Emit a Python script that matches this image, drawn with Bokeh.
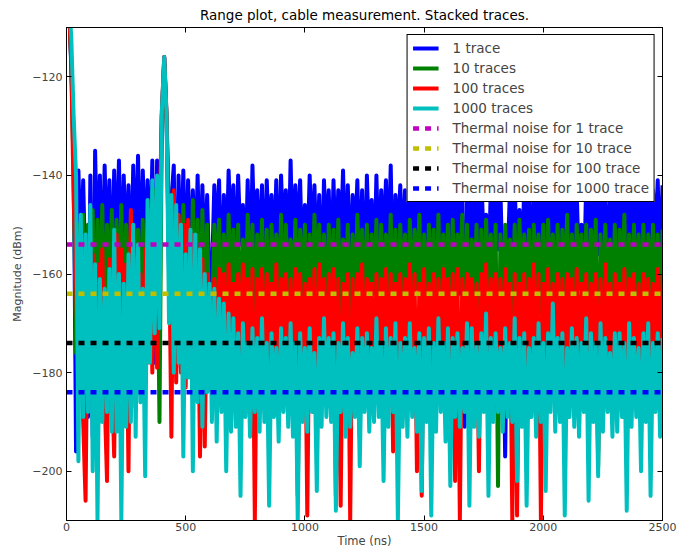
from bokeh.plotting import figure
from bokeh.models import Range1d, FixedTicker, LinearAxis
from bokeh.embed import file_html
from bokeh.resources import INLINE

# ---------------- data ----------------
time_ns = list(range(0, 2501, 10))

trace_1 = [
    -108, -104, -118, -132, -196, -139, -158, -141, -162, -189,
    -140, -193, -135, -160, -140, -165, -138, -158, -141, -166,
    -139, -160, -137, -163, -140, -158, -142, -164, -138, -160,
    -136, -162, -139, -158, -141, -160, -137, -178, -137, -160,
    -128, -116, -129, -160, -145, -138, -179, -140, -160, -139,
    -163, -141, -159, -143, -161, -140, -162, -142, -160, -144,
    -163,
    -161, -142, -155, -141, -166, -144, -160, -139, -154, -142,
    -163, -140, -154, -146, -162, -141, -165, -138, -156, -143,
    -159, -142, -163, -141, -155, -144, -158, -141, -164, -140,
    -154, -143, -162, -137, -159, -142, -155, -141, -161, -146,
    -158, -140, -156, -142, -160, -144, -166, -141, -154, -143,
    -162, -141, -158, -143, -155, -139, -160, -142, -163, -144,
    -154, -141, -161, -143, -165, -140, -156, -145, -162, -140,
    -160, -143, -155, -141, -159, -138, -166, -144, -154, -142,
    -158, -143, -164, -140, -156, -143, -162, -141, -159, -142,
    -155, -141, -161, -144, -158, -139, -154, -143, -160, -141,
    -162, -143, -156, -142, -164, -141, -191, -143, -155, -144,
    -158, -141, -163, -140, -154, -148, -162, -142, -165, -141,
    -155, -143, -161, -197, -158, -143, -156, -141, -160, -147,
    -164, -141, -154, -142, -162, -144, -158, -141, -155, -143,
    -160, -140, -161, -143, -156, -142, -159, -141, -162, -144,
    -154, -141, -163, -143, -160, -150, -164, -141, -155, -142,
    -161, -143, -156, -140, -163, -142, -160, -145, -154, -141,
    -159, -143, -164, -141, -155, -144, -158, -142, -163, -140,
    -156, -143, -162, -141, -159, -143, -154, -141, -161, -142,
]

trace_10 = [
    -108, -105, -117, -140, -176, -150, -170, -148, -172, -150,
    -168, -147, -175, -149, -170, -146, -173, -150, -168, -147,
    -171, -149, -169, -146, -174, -150, -170, -148, -172, -187,
    -151, -170, -149, -173, -150, -147, -175, -143, -145, -190,
    -128, -117, -129, -150, -147, -145, -170, -148, -172, -146,
    -169, -151, -168, -145, -171, -149, -174, -147, -170, -150,
    -173,
    -172, -150, -164, -149, -175, -152, -169, -148, -165, -151,
    -170, -150, -176, -153, -171, -148, -164, -150, -174, -152,
    -165, -149, -172, -151, -177, -150, -163, -152, -168, -148,
    -173, -150, -164, -153, -169, -149, -175, -151, -165, -150,
    -176, -152, -168, -148, -163, -150, -170, -152, -174, -150,
    -164, -151, -173, -149, -171, -153, -165, -150, -175, -152,
    -170, -148, -163, -151, -169, -150, -176, -152, -164, -149,
    -174, -150, -168, -152, -165, -148, -170, -151, -169, -150,
    -164, -152, -175, -149, -170, -151, -163, -148, -174, -152,
    -169, -150, -165, -151, -176, -148, -170, -152, -164, -150,
    -173, -149, -169, -152, -163, -148, -175, -150, -170, -153,
    -165, -150, -174, -151, -170, -149, -164, -152, -169, -150,
    -203, -152, -171, -150, -164, -153, -168, -150, -172, -149,
    -165, -152, -169, -151, -174, -150, -163, -152, -168, -150,
    -175, -149, -164, -152, -172, -150, -169, -151, -165, -148,
    -171, -152, -168, -150, -163, -152, -170, -150, -172, -151,
    -164, -149, -199, -152, -171, -150, -165, -153, -170, -150,
    -173, -151, -163, -148, -172, -152, -170, -150, -164, -152,
    -169, -150, -171, -152, -165, -150, -168, -152, -172, -151,
]

trace_100 = [
    -108, -105, -117, -145, -160, -185, -162, -190, -206, -157,
    -180, -156, -188, -158, -178, -155, -185, -202, -157, -180,
    -197, -152, -182, -155, -179, -158, -200, -147, -183, -157,
    -180, -160, -185, -155, -178, -150, -180, -145, -179, -150,
    -127, -116, -128, -152, -193, -143, -182, -148, -180, -150,
    -183, -149, -181, -152, -179, -155, -197, -157, -195, -160,
    -183,
    -184, -161, -181, -159, -186, -160, -180, -158, -185, -162,
    -182, -160, -179, -158, -184, -161, -187, -159, -210, -161,
    -181, -159, -186, -160, -183, -162, -180, -158, -185, -161,
    -182, -160, -187, -161, -180, -159, -205, -160, -184, -162,
    -209, -161, -183, -159, -192, -158, -181, -161, -186, -160,
    -180, -159, -205, -161, -207, -162, -184, -160, -210, -161,
    -182, -160, -193, -158, -185, -161, -180, -162, -186, -160,
    -183, -161, -181, -159, -187, -160, -196, -162, -180, -160,
    -185, -161, -182, -158, -184, -160, -200, -162, -205, -159,
    -181, -162, -186, -160, -180, -161, -184, -159, -187, -161,
    -182, -160, -202, -159, -210, -161, -183, -160, -186, -161,
    -180, -162, -200, -160, -184, -158, -182, -161, -187, -160,
    -181, -161, -185, -159, -183, -162, -210, -160, -209, -162,
    -180, -160, -186, -161, -182, -158, -184, -160, -210, -162,
    -183, -159, -181, -162, -185, -160, -180, -161, -187, -160,
    -182, -161, -184, -159, -186, -162, -181, -160, -183, -162,
    -185, -160, -196, -161, -187, -158, -182, -162, -184, -160,
    -181, -162, -186, -159, -183, -161, -180, -160, -185, -162,
    -182, -160, -187, -161, -180, -162, -184, -159, -186, -160,
]

trace_1000 = [
    -106, -104, -112, -128, -140, -198, -148, -189, -152, -188,
    -146, -200, -158, -210, -161, -190, -163, -188, -159, -192,
    -151, -192, -160, -210, -162, -191, -156, -190, -150, -193,
    -154, -186, -163, -201, -145, -178, -141, -172, -140, -171,
    -127, -116, -128, -170, -144, -180, -146, -178, -150, -197,
    -156, -181, -151, -200, -152, -186, -155, -191, -160, -184,
    -162, -190, -163, -194, -165, -188, -166, -200, -168, -192,
    -169,
    -191, -172, -205, -170, -189, -174, -193, -171, -188, -173,
    -192, -169, -190, -174, -207, -172, -189, -175, -194, -171,
    -188, -173, -191, -170, -193, -174, -210, -172, -190, -175,
    -192, -171, -188, -176, -204, -173, -191, -169, -189, -173,
    -190, -172, -208, -174, -188, -170, -193, -173, -191, -176,
    -189, -171, -199, -173, -188, -172, -192, -175, -190, -169,
    -189, -174, -202, -171, -191, -173, -188, -170, -210, -174,
    -191, -173, -193, -170, -189, -175, -192, -172, -204, -173,
    -190, -171, -209, -174, -192, -169, -188, -174, -194, -171,
    -203, -173, -189, -172, -191, -175, -188, -170, -207, -171,
    -191, -174, -193, -172, -188, -168, -205, -173, -190, -172,
    -188, -175, -192, -171, -189, -174, -190, -169, -202, -173,
    -191, -172, -207, -175, -189, -173, -193, -170, -190, -174,
    -204, -172, -188, -166, -192, -173, -190, -172, -209, -175,
    -189, -171, -191, -173, -193, -174, -188, -169, -206, -172,
    -190, -174, -201, -170, -192, -173, -188, -176, -193, -172,
    -192, -172, -189, -174, -208, -170, -191, -173, -189, -175,
    -200, -172, -190, -170, -205, -174, -188, -172, -193, -173,
]

trace_labels = ["1 trace", "10 traces", "100 traces", "1000 traces"]
noise_levels = [-154, -164, -174, -184]
noise_labels = ["Thermal noise for 1 trace", "Thermal noise for 10 trace",
                "Thermal noise for 100 trace", "Thermal noise for 1000 trace"]

x_ticks = [0, 500, 1000, 1500, 2000, 2500]
y_ticks = [-200, -180, -160, -140, -120]

for tr in (trace_1, trace_10, trace_100, trace_1000):
    assert len(tr) == len(time_ns), len(tr)

# ---------------- styling ----------------
trace_colors = ["#0000ff", "#008000", "#ff0000", "#00bfbf"]
noise_colors = ["#bf00bf", "#bfbf00", "#000000", "#0000ff"]
FONT = "DejaVu Sans"

p = figure(width=690, height=550, output_backend="svg", toolbar_location=None,
           x_range=Range1d(0, 2500), y_range=Range1d(-210, -110),
           min_border_left=66, min_border_right=28, min_border_top=27,
           min_border_bottom=28)

p.title.text = "Range plot, cable measurement. Stacked traces."
p.title.align = "center"
p.title.text_font = FONT
p.title.text_font_size = "13.5px"
p.title.text_font_style = "normal"
p.title.text_color = "#000000"
p.title.standoff = 9

p.background_fill_color = "white"
p.border_fill_color = "white"
p.outline_line_color = "black"
p.outline_line_width = 1
p.xgrid.visible = False
p.ygrid.visible = False

for ys, col, lab in zip((trace_1, trace_10, trace_100, trace_1000), trace_colors, trace_labels):
    p.line(time_ns, ys, line_color=col, line_width=4, line_join="round", legend_label=lab)

for lvl, col, lab in zip(noise_levels, noise_colors, noise_labels):
    p.line([time_ns[0], time_ns[-1]], [lvl, lvl], line_color=col, line_width=4.5,
           line_dash="6 6", legend_label=lab)

minus = "\u2212"
y_over = {v: (minus + str(-v)) if v < 0 else str(v) for v in y_ticks}

def style_axis(ax, ticks, labels=True, overrides=None):
    ax.ticker = FixedTicker(ticks=ticks)
    ax.minor_tick_line_color = None
    ax.major_tick_in = 5
    ax.major_tick_out = 0
    ax.major_tick_line_color = "black"
    ax.axis_line_color = "black"
    ax.major_label_text_font = FONT
    ax.axis_label_text_font = FONT
    ax.axis_label_text_font_style = "normal"
    ax.major_label_text_font_size = "11px"
    if labels:
        ax.major_label_standoff = 4
        if overrides:
            ax.major_label_overrides = overrides
    else:
        ax.major_label_standoff = 0
        ax.major_label_overrides = {t: "" for t in ticks}
        ax.major_label_text_color = None

style_axis(p.xaxis[0], x_ticks)
style_axis(p.yaxis[0], y_ticks, overrides=y_over)
p.xaxis[0].major_label_standoff = 2
p.xaxis[0].axis_label = "Time (ns)"
p.yaxis[0].axis_label = "Magnitude (dBm)"
p.xaxis[0].axis_label_text_font_size = "11.5px"
p.yaxis[0].axis_label_text_font_size = "11px"
p.xaxis[0].axis_label_standoff = 0
p.yaxis[0].axis_label_standoff = 5

top_ax = LinearAxis()
right_ax = LinearAxis()
style_axis(top_ax, x_ticks, labels=False)
style_axis(right_ax, y_ticks, labels=False)
p.add_layout(top_ax, "above")
p.add_layout(right_ax, "right")

lg = p.legend[0]
lg.location = "top_right"
lg.margin = 7
lg.padding = 5
lg.spacing = 4
lg.label_height = 16
lg.glyph_height = 16
lg.glyph_width = 26
lg.label_standoff = 14
lg.label_text_font = FONT
lg.label_text_font_size = "13.5px"
lg.border_line_color = "black"
lg.border_line_width = 1
lg.border_line_alpha = 1
lg.background_fill_color = "white"
lg.background_fill_alpha = 1

open("out.html", "w").write(file_html(p, INLINE))
